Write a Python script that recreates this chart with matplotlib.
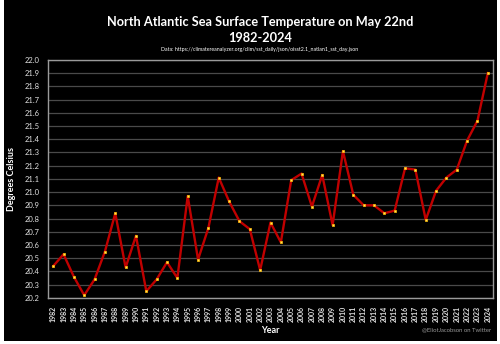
import matplotlib
matplotlib.use('Agg')
import matplotlib.pyplot as plt
import matplotlib.patches as patches
import numpy as np

years = list(range(1982, 2025))
sst = [20.44, 20.53, 20.36, 20.22, 20.34, 20.55, 20.84, 20.43, 20.67, 20.25,
       20.34, 20.47, 20.35, 20.97, 20.49, 20.73, 21.11, 20.93, 20.78, 20.72,
       20.41, 20.77, 20.62, 21.09, 21.14, 20.89, 21.13, 20.75, 21.31, 20.98,
       20.90, 20.90, 20.84, 20.86, 21.18, 21.17, 20.79, 21.01, 21.11, 21.17,
       21.39, 21.54, 21.90]
yticks = np.round(np.arange(20.2, 22.01, 0.1), 1)

plt.rcParams['font.family'] = ['Lato', 'DejaVu Sans']

fig = plt.figure(figsize=(5, 3.44), dpi=100, facecolor='white')
# black card with thin light edge like the screenshot
fig.patches.append(patches.Rectangle((4/500, 0.01), 493/500, 0.99, transform=fig.transFigure,
                                     facecolor='black', edgecolor='none', zorder=-5))

ax = fig.add_axes([0.096, 0.134, 0.89, 0.692])
ax.set_zorder(2)
ax.set_facecolor('black')
ax.plot(years, sst, color='#c00000', lw=1.7, marker='s', ms=1.8,
        mfc='#ffe066', mec='#ffc000', mew=0.5, zorder=3)

ax.set_ylim(20.2, 22.0)
ax.set_yticks(yticks)
ax.set_yticklabels([f'{v:.1f}' for v in yticks], color='#e0e0e0', fontsize=5.5)
ax.set_xlim(1981.5, 2024.5)
ax.set_xticks(years)
ax.set_xticklabels([str(y) for y in years], rotation=90, color='#e0e0e0', fontsize=5, fontweight='bold')
ax.tick_params(length=0, pad=6)
ax.grid(axis='y', color='#4a4a4a', lw=0.9)
for s in ax.spines.values():
    s.set_color('#9a9a9a')
    s.set_linewidth(1)

ax.set_ylabel('Degrees Celsius', color='white', fontsize=6.5, fontweight='bold', labelpad=6)

fig.text(0.52, 0.937, 'North Atlantic Sea Surface Temperature on May 22nd', color='white',
         fontsize=9.2, fontweight='bold', ha='center', va='center', zorder=3)
fig.text(0.52, 0.89, '1982-2024', color='white', fontsize=9.2, fontweight='bold', ha='center', va='center', zorder=3)
fig.text(0.52, 0.857, 'Data: https://climatereanalyzer.org/clim/sst_daily/json/oisst2.1_natlan1_sst_day.json',
         color='white', fontsize=3.8, ha='center', va='center', zorder=3)
fig.text(0.54, 0.04, 'Year', color='white', fontsize=6.5, fontweight='bold', ha='center', va='center', zorder=3)
fig.text(0.982, 0.04, '@EliotJacobson on Twitter', color='#9a9a9a', fontsize=4.2, ha='right', va='center', zorder=3)

fig.savefig('out.png', dpi=100, facecolor=fig.get_facecolor())
